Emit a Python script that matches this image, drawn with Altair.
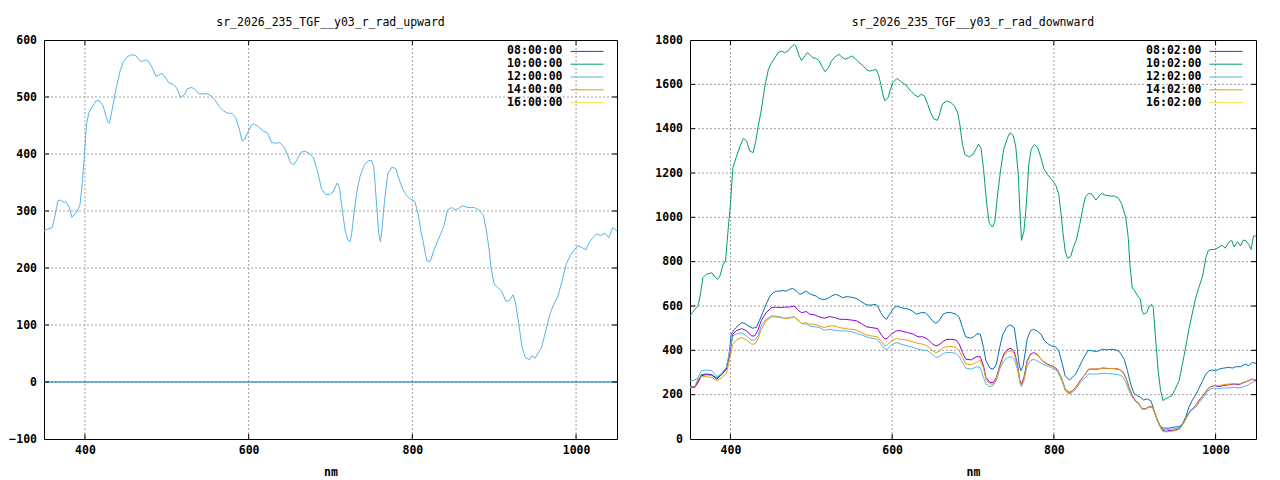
import altair as alt
import pandas as pd

FONT = "DejaVu Sans Mono"
PURPLE, GREEN, LBLUE, ORANGE, YELLOW, DBLUE = "#9400d3", "#009e73", "#56b4e9", "#e69f00", "#f0e442", "#0072b2"
GRID = "#a0a0a0"

up_title = "sr_2026_235_TGF__y03_r_rad_upward"
dn_title = "sr_2026_235_TGF__y03_r_rad_downward"
up_names = ["08:00:00", "10:00:00", "12:00:00", "14:00:00", "16:00:00"]
dn_names = ["08:02:00", "10:02:00", "12:02:00", "14:02:00", "16:02:00"]
name_colors = [PURPLE, GREEN, LBLUE, ORANGE, YELLOW]

x_ticks = [400, 600, 800, 1000]
up_y_ticks = [-100, 0, 100, 200, 300, 400, 500, 600]
dn_y_ticks = [0, 200, 400, 600, 800, 1000, 1200, 1400, 1600, 1800]

# ---------------- upward panel ----------------
up_1200_nm = [350, 354, 360, 363, 367, 370, 375, 377, 381, 384, 390, 394, 397, 400, 402, 405, 410, 414, 418, 422,
              425, 428, 430, 433, 438, 443, 447, 452, 457, 462, 466, 469, 474, 478, 482, 487, 490, 494, 498, 503,
              508, 512, 517, 522, 525, 530, 534, 539, 544, 549, 554, 559, 564, 569, 574, 580, 584, 588, 592, 595,
              599, 603, 606, 611, 618, 623, 628, 633, 638, 643, 648, 651, 655, 659, 664, 669, 674, 679, 684, 689,
              694, 699, 703, 708, 711, 715, 718, 721, 724, 726, 729, 733, 736, 741, 746, 750, 753, 756, 759, 761,
              763, 766, 770, 775, 780, 783, 788, 793, 798, 803, 807, 811, 813, 816, 818, 822, 826, 831, 838, 843,
              848, 852, 856, 861, 868, 876, 882, 887, 891, 894, 896, 900, 904, 909, 914, 918, 923, 926, 930, 934,
              938, 943, 946, 950, 953, 958, 963, 968, 973, 978, 983, 988, 993, 998, 1002, 1007, 1012, 1016, 1020,
              1025, 1030, 1035, 1040, 1045, 1050]
up_1200_val = [265, 268, 271, 289, 318, 319, 315, 316, 306, 289, 298, 311, 353, 412, 453, 473, 485, 494, 493, 485,
               470, 457, 454, 476, 514, 546, 562, 571, 574, 573, 565, 562, 565, 562, 552, 536, 538, 542, 535, 524,
               522, 516, 499, 505, 514, 517, 514, 506, 505, 506, 502, 495, 483, 476, 472, 471, 464, 447, 423, 425,
               438, 450, 453, 449, 440, 437, 420, 419, 420, 413, 397, 385, 381, 390, 403, 405, 401, 394, 371, 339,
               329, 329, 333, 349, 341, 295, 265, 250, 246, 262, 300, 340, 360, 380, 388, 389, 377, 318, 260, 246,
               270, 318, 365, 377, 374, 359, 339, 327, 321, 317, 295, 260, 248, 224, 212, 212, 230, 248, 271, 302,
               306, 302, 304, 309, 306, 306, 301, 292, 260, 230, 201, 172, 166, 160, 142, 142, 153, 140, 102, 61,
               43, 39, 46, 42, 49, 61, 90, 119, 137, 151, 178, 207, 222, 232, 239, 236, 232, 245, 252,
               260, 257, 261, 253, 271, 265]
up_extra_nm = [350, 1050]
up_extra_val = [0, 0]

# ---------------- downward panel ----------------
dn_1002_nm = [350, 353, 356, 360, 363, 366, 370, 377, 380, 384, 387, 391, 394, 397, 400, 403, 407, 412, 416, 420,
              424, 428, 431, 434, 438, 443, 447, 451, 455, 459, 463, 467, 471, 475, 479, 481, 485, 488, 492, 495,
              498, 502, 506, 510, 514, 517, 521, 525, 529, 534, 538, 542, 546, 550, 554, 558, 563, 568, 572, 576,
              580, 583, 586, 589, 591, 595, 598, 601, 606, 611, 617, 623, 628, 632, 636, 640, 644, 648, 652, 656,
              658, 662, 667, 673, 677, 681, 684, 687, 690, 695, 700, 704, 707, 710, 713, 717, 720, 724, 727, 730,
              734, 738, 743, 746, 750, 753, 756, 758, 760, 763, 766, 769, 772, 776, 780, 784, 788, 792, 797, 802,
              806, 809, 811, 814, 817, 821, 824, 828, 832, 836, 839, 843, 847, 852, 856, 859, 864, 870, 875, 880,
              884, 889, 892, 894, 897, 899, 903, 907, 909, 911, 915, 918, 921, 923, 926, 929, 932, 935, 938, 942,
              946, 950, 955, 959, 963, 967, 971, 975, 979, 984, 988, 991, 994, 999, 1003, 1008, 1012, 1016, 1020,
              1023, 1027, 1031, 1034, 1037, 1041, 1044, 1047, 1050]
dn_1002_val = [555, 570, 586, 601, 655, 728, 743, 750, 735, 720, 735, 788, 803, 938, 1059, 1224, 1269, 1322, 1356, 1344,
               1299, 1292, 1337, 1404, 1480, 1600, 1668, 1698, 1720, 1743, 1750, 1743, 1750, 1768, 1780, 1773, 1728, 1708, 1728, 1743,
               1735, 1720, 1717, 1705, 1675, 1657, 1675, 1705, 1723, 1735, 1723, 1713, 1720, 1728, 1717, 1702, 1687, 1668, 1660, 1663,
               1668, 1645, 1600, 1547, 1525, 1540, 1578, 1608, 1627, 1612, 1597, 1570, 1552, 1543, 1555, 1547, 1510, 1468, 1442, 1438,
               1457, 1510, 1525, 1517, 1502, 1472, 1412, 1329, 1284, 1272, 1284, 1310, 1330, 1310, 1220, 1059, 976, 956, 980, 1089,
               1209, 1307, 1362, 1382, 1367, 1314, 1194, 1029, 896, 938, 1059, 1239, 1307, 1329, 1314, 1269, 1216, 1194, 1171, 1149,
               1104, 1013, 938, 848, 815, 825, 863, 901, 968, 1044, 1092, 1108, 1104, 1078, 1096, 1108, 1099, 1096, 1096, 1086,
               1059, 998, 908, 788, 680, 675, 649, 630, 578, 563, 570, 600, 607, 593, 443, 308, 218, 173, 181, 188,
               196, 225, 263, 338, 413, 495, 563, 630, 680, 735, 818, 851, 855, 855, 863, 874, 861, 886, 896,
               866, 890, 871, 896, 896, 878, 855, 916, 916]

dn_extra_nm = [350, 356, 360, 364, 368, 372, 377, 383, 387, 391, 395, 398, 401, 405, 409, 414, 418, 422, 427, 432,
               436, 440, 444, 449, 453, 457, 461, 465, 469, 473, 477, 481, 486, 490, 494, 498, 502, 506, 510, 514,
               518, 523, 527, 531, 535, 539, 543, 549, 553, 558, 562, 566, 570, 574, 579, 582, 586, 590, 593, 597,
               601, 605, 609, 615, 621, 626, 630, 636, 641, 645, 650, 654, 658, 663, 667, 673, 679, 683, 687, 691,
               697, 701, 705, 709, 713, 716, 721, 725, 729, 733, 737, 742, 746, 751, 754, 757, 759, 762, 767, 771,
               775, 779, 784, 788, 792, 797, 802, 806, 810, 814, 819, 823, 827, 831, 835, 839, 843, 847, 852, 856,
               860, 866, 872, 878, 882, 887, 891, 895, 899, 903, 907, 911, 915, 918, 920, 924, 928, 932, 936, 942,
               948, 955, 959, 963, 967, 971, 975, 979, 984, 988, 992, 996, 1000, 1004, 1010, 1017, 1021, 1025, 1031,
               1037, 1041, 1045, 1050]
dn_extra_val = [236, 236, 263, 290, 293, 293, 290, 275, 285, 300, 323, 368, 473, 495, 510, 525, 521, 510, 500, 503,
                536, 570, 607, 645, 660, 667, 667, 670, 667, 675, 679, 670, 652, 660, 667, 655, 649, 645, 634, 630,
                630, 640, 649, 652, 645, 637, 642, 640, 637, 630, 619, 610, 604, 604, 607, 600, 570, 548, 540, 563,
                585, 600, 595, 589, 585, 575, 563, 570, 570, 555, 533, 522, 533, 563, 570, 570, 563, 548, 503, 461,
                455, 461, 475, 473, 413, 353, 320, 315, 338, 413, 473, 506, 515, 503, 428, 338, 308, 330, 450, 488,
                495, 488, 473, 446, 431, 420, 416, 398, 345, 285, 266, 278, 293, 323, 353, 380, 401, 398, 395, 398,
                405, 402, 405, 401, 390, 360, 308, 248, 206, 196, 188, 176, 181, 176, 173, 128, 83, 56, 49, 49,
                53, 56, 68, 98, 143, 173, 196, 225, 263, 293, 308, 311, 308, 315, 320, 323, 320, 326, 326,
                338, 330, 345, 341]

dn_0802_nm = [350, 356, 360, 364, 370, 377, 383, 389, 395, 399, 403, 407, 414, 420, 426, 430, 434, 438, 444, 451,
              456, 461, 467, 473, 479, 484, 488, 494, 498, 504, 510, 516, 523, 529, 535, 541, 549, 556, 562, 568,
              574, 582, 586, 591, 594, 599, 605, 611, 619, 626, 632, 638, 644, 650, 654, 658, 663, 667, 673, 679,
              683, 687, 691, 698, 704, 709, 713, 716, 721, 725, 729, 733, 738, 743, 747, 751, 755, 758, 760, 763,
              767, 771, 775, 779, 786, 792, 798, 804, 810, 814, 819, 823, 827, 833, 839, 843, 847, 854, 860, 866,
              874, 880, 885, 889, 893, 897, 901, 905, 909, 913, 918, 922, 926, 930, 934, 938, 944, 951, 956, 961,
              965, 969, 973, 977, 981, 986, 990, 994, 999, 1004, 1010, 1017, 1023, 1029, 1035, 1041, 1045, 1050]
dn_0802_val = [230, 233, 255, 285, 290, 288, 270, 290, 315, 383, 473, 488, 498, 488, 465, 465, 491, 533, 570, 593,
               595, 593, 595, 595, 600, 580, 570, 575, 563, 560, 551, 545, 552, 548, 540, 540, 537, 533, 521, 506,
               503, 498, 473, 450, 455, 473, 488, 488, 480, 473, 461, 461, 450, 428, 420, 425, 440, 449, 450, 446,
               428, 390, 360, 357, 371, 371, 330, 278, 255, 255, 278, 330, 383, 405, 409, 395, 338, 263, 248, 278,
               353, 383, 390, 383, 353, 338, 330, 315, 270, 225, 210, 218, 233, 266, 293, 315, 315, 315, 320, 318,
               318, 315, 305, 278, 233, 196, 173, 161, 136, 136, 146, 146, 106, 68, 41, 35, 38, 41, 49, 76,
               106, 128, 140, 161, 181, 203, 225, 236, 241, 236, 241, 245, 248, 245, 255, 263, 270, 263]

dn_1202_nm = dn_0802_nm
dn_1202_val = [263, 266, 278, 308, 311, 308, 281, 296, 323, 398, 465, 473, 480, 465, 446, 446, 465, 510, 540, 555,
               555, 551, 545, 548, 551, 533, 521, 518, 510, 506, 503, 491, 495, 491, 488, 488, 485, 476, 470, 461,
               455, 450, 428, 405, 405, 423, 435, 428, 420, 413, 405, 401, 398, 380, 368, 371, 386, 390, 390, 386,
               371, 345, 320, 315, 326, 323, 278, 248, 236, 241, 266, 315, 353, 368, 371, 360, 315, 255, 236, 263,
               330, 353, 360, 353, 338, 330, 320, 308, 263, 218, 203, 211, 226, 256, 278, 293, 293, 293, 296, 296,
               293, 290, 281, 255, 218, 188, 170, 158, 136, 136, 143, 143, 106, 71, 46, 41, 44, 47, 53, 76,
               101, 125, 136, 151, 170, 191, 215, 226, 230, 226, 230, 230, 233, 230, 236, 245, 255, 263]

dn_1402_nm = dn_0802_nm
dn_1402_val = [233, 236, 275, 281, 281, 278, 263, 275, 296, 360, 428, 446, 458, 446, 428, 428, 450, 495, 533, 551,
               551, 548, 545, 545, 551, 536, 521, 525, 518, 518, 510, 503, 510, 510, 503, 498, 495, 491, 480, 470,
               465, 461, 443, 420, 425, 443, 453, 450, 446, 438, 431, 428, 418, 398, 390, 395, 413, 416, 418, 413,
               398, 368, 338, 335, 345, 355, 320, 270, 248, 248, 272, 322, 375, 395, 398, 385, 330, 256, 242, 270,
               345, 380, 388, 380, 352, 336, 328, 313, 268, 223, 207, 216, 231, 264, 292, 314, 316, 316, 320, 319,
               318, 315, 304, 276, 230, 193, 170, 158, 134, 134, 145, 145, 104, 64, 36, 32, 34, 38, 46, 74,
               104, 126, 138, 158, 178, 200, 222, 236, 243, 240, 246, 248, 250, 248, 256, 262, 270, 268]

x_scale = alt.Scale(domain=[350, 1050], nice=False, zero=False)


def panel(title, names, lines, y_dom, y_ticks, w, h):
    y_scale = alt.Scale(domain=y_dom, nice=False, zero=False)
    # identical axis objects on every layer so the shared axes merge cleanly
    ax_x = alt.Axis(values=x_ticks, format="d", grid=False, ticks=False, domain=False, labelFlush=False,
                    labelFont=FONT, labelFontSize=11.5, labelFontWeight="bold", labelColor="black",
                    labelPadding=5, title="nm", titleFont=FONT, titleFontSize=11.5,
                    titleFontWeight="bold", titleColor="black", titlePadding=11)
    ax_y = alt.Axis(values=y_ticks, format="d", grid=False, ticks=False, domain=False, labelFlush=False,
                    labelOverlap=False, labelFont=FONT, labelFontSize=11.5, labelFontWeight="bold",
                    labelColor="black", labelPadding=7.5, title="")
    X = lambda f: alt.X(f, scale=x_scale, axis=ax_x)
    Y = lambda f: alt.Y(f, scale=y_scale, axis=ax_y)

    inner_y = [t for t in y_ticks if y_dom[0] < t < y_dom[1]]
    xdf = pd.DataFrame({"t": x_ticks})
    ydf = pd.DataFrame({"t": inner_y})

    layers = [
        alt.Chart(xdf).mark_rule(color=GRID, strokeWidth=1, strokeDash=[2, 2]).encode(x=X("t:Q")),
        alt.Chart(ydf).mark_rule(color=GRID, strokeWidth=1, strokeDash=[2, 2]).encode(y=Y("t:Q")),
    ]
    for nm, val, color in lines:
        df = pd.DataFrame({"nm": nm, "v": val})
        layers.append(alt.Chart(df).mark_line(color=color, strokeWidth=1, interpolate="linear").encode(
            x=X("nm:Q"), y=Y("v:Q")))
    # inward tick marks on all four sides
    layers += [
        alt.Chart(ydf).mark_rule(color="black", strokeWidth=1).encode(y=Y("t:Q"), x=alt.value(0), x2=alt.value(5)),
        alt.Chart(ydf).mark_rule(color="black", strokeWidth=1).encode(y=Y("t:Q"), x=alt.value(w - 5), x2=alt.value(w)),
        alt.Chart(xdf).mark_rule(color="black", strokeWidth=1).encode(x=X("t:Q"), y=alt.value(h - 5), y2=alt.value(h)),
        alt.Chart(xdf).mark_rule(color="black", strokeWidth=1).encode(x=X("t:Q"), y=alt.value(0), y2=alt.value(5)),
    ]
    # key inside the top-right corner: label, then a line sample
    for i, (name, c) in enumerate(zip(names, name_colors)):
        row = 11.4 + 12.8 * i
        ndf = pd.DataFrame({"name": [name]})
        layers.append(alt.Chart(ndf).mark_text(align="right", baseline="middle", font=FONT, fontSize=11.5,
                                               fontWeight="bold", color="black").encode(
            x=alt.value(w - 54.5), y=alt.value(row), text="name:N"))
        layers.append(alt.Chart(ndf).mark_rule(strokeWidth=1, color=c).encode(
            x=alt.value(w - 46.5), x2=alt.value(w - 13.5), y=alt.value(row)))

    return alt.layer(*layers).properties(
        width=w, height=h,
        title=alt.TitleParams(title, font=FONT, fontSize=11.5, fontWeight="normal", color="black",
                              anchor="middle", frame="group", offset=5.3),
    )


left = panel(up_title, up_names,
             [(up_extra_nm, up_extra_val, DBLUE), (up_1200_nm, up_1200_val, LBLUE)],
             [-100, 600], up_y_ticks, 573, 399)
right = panel(dn_title, dn_names,
              [(dn_extra_nm, dn_extra_val, DBLUE), (dn_0802_nm, dn_0802_val, PURPLE),
               (dn_1002_nm, dn_1002_val, GREEN), (dn_1202_nm, dn_1202_val, LBLUE),
               (dn_1402_nm, dn_1402_val, ORANGE)],
              [0, 1800], dn_y_ticks, 566, 399)

chart = alt.hconcat(left, right, spacing=34).configure(
    padding={"left": 0, "top": 8, "right": 0, "bottom": 0}, background="white"
).configure_view(stroke="black", strokeWidth=1)

chart.save("out.html", embed_options={"renderer": "svg", "actions": False})
